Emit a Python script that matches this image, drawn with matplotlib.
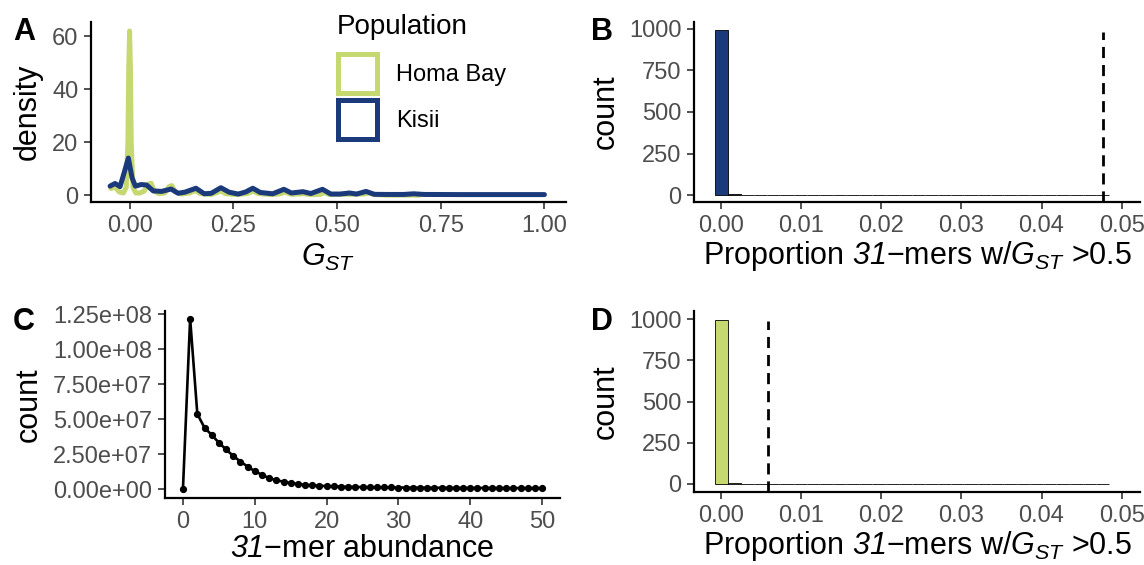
import matplotlib
matplotlib.use("Agg")
import matplotlib.pyplot as plt
import numpy as np
from matplotlib.patches import Patch
from matplotlib.ticker import FuncFormatter

plt.rcParams["font.family"] = ["Liberation Sans", "DejaVu Sans"]
plt.rcParams["mathtext.fontset"] = "custom"
# math parts of the labels ("31", G_ST) are all italic in the reference
plt.rcParams["mathtext.rm"] = "Liberation Sans:italic"
plt.rcParams["mathtext.it"] = "Liberation Sans:italic"

GREEN = "#c6d870"
BLUE = "#1b3a7b"
TICK_GREY = "#4d4d4d"

# panel A: GST density curves
homa_x = [-0.045, -0.035, -0.025, -0.015, -0.008, -0.004, -0.002, 0.0, 0.002, 0.004, 0.008,
          0.015, 0.025, 0.035, 0.045, 0.052, 0.06, 0.07, 0.085, 0.095, 0.102, 0.11, 0.125,
          0.145, 0.158, 0.17, 0.195, 0.21, 0.22, 0.232, 0.26, 0.285, 0.297, 0.31, 0.34, 0.36,
          0.375, 0.39, 0.42, 0.435, 0.46, 0.47, 0.48, 0.53, 0.565, 0.575, 0.59, 0.62, 0.70]
homa_d = [2.5, 3.0, 1.2, 0.8, 3.0, 20.0, 48.0, 62.0, 48.0, 20.0, 3.0,
          0.8, 0.8, 1.5, 4.2, 4.5, 1.5, 0.6, 0.8, 3.2, 3.6, 1.2, 0.4,
          0.8, 1.8, 0.6, 0.2, 0.9, 1.6, 0.5, 0.2, 0.6, 1.6, 0.6, 0.2, 0.4,
          1.1, 0.3, 0.5, 0.2, 0.3, 1.0, 0.3, 0.3, 0.4, 0.8, 0.2, 0.0, 0.0]

kisii_x = [-0.047, -0.035, -0.023, -0.013, -0.003, 0.006, 0.014, 0.028, 0.041, 0.057, 0.077,
           0.1, 0.117, 0.133, 0.16, 0.18, 0.197, 0.22, 0.24, 0.262, 0.28, 0.297, 0.315, 0.345,
           0.372, 0.39, 0.418, 0.437, 0.465, 0.485, 0.507, 0.53, 0.547, 0.57, 0.59, 0.62, 0.66,
           0.685, 0.71, 0.8, 0.9, 1.0]
kisii_d = [3.4, 4.4, 3.2, 8.5, 14.0, 6.5, 3.4, 4.0, 3.8, 1.6, 1.4,
           2.3, 0.7, 1.1, 2.6, 0.5, 0.7, 2.8, 1.1, 0.4, 1.2, 2.6, 1.0, 0.5,
           2.2, 0.8, 1.3, 0.6, 2.2, 0.4, 0.4, 0.8, 0.4, 1.4, 0.3, 0.25, 0.25,
           0.5, 0.25, 0.2, 0.2, 0.2]

# panel C: 31-mer abundance spectrum
abundance = list(range(0, 51))
kmer_count = [0.0, 1.219e8, 5.37e7, 4.39e7, 3.87e7, 3.32e7, 2.83e7, 2.37e7, 1.97e7, 1.61e7,
              1.28e7, 1.02e7, 7.8e6, 6.4e6, 5.2e6, 4.3e6, 3.6e6, 3.1e6, 2.7e6, 2.4e6,
              2.1e6, 1.9e6, 1.75e6, 1.6e6, 1.5e6, 1.4e6, 1.3e6, 1.25e6, 1.2e6, 1.15e6,
              1.1e6, 1.05e6, 1.0e6, 0.97e6, 0.94e6, 0.91e6, 0.88e6, 0.86e6, 0.84e6, 0.82e6,
              0.8e6, 0.78e6, 0.76e6, 0.74e6, 0.72e6, 0.7e6, 0.69e6, 0.68e6, 0.67e6, 0.66e6,
              0.65e6]

# panels B and D: permutation histograms (30 bins)
hist_max = 0.0476
counts_b = [994, 5] + [0] * 27 + [1]
counts_d = [995, 4] + [0] * 27 + [1]
observed_b = 0.0477
observed_d = 0.0059

W, H = 1144, 565
fig = plt.figure(figsize=(W / 100, H / 100), dpi=100)


def px_axes(left, top, right, bottom):
    return fig.add_axes([left / W, 1 - bottom / H, (right - left) / W, (bottom - top) / H])


def style(ax):
    for s in ["top", "right"]:
        ax.spines[s].set_visible(False)
    for s in ["left", "bottom"]:
        ax.spines[s].set_linewidth(1.6)
        ax.spines[s].set_color("black")
    ax.tick_params(length=5, width=1.2, color="#333333", labelsize=17,
                   labelcolor=TICK_GREY, pad=4)


axA = px_axes(91, 22, 566, 202)
axB = px_axes(694, 22, 1140, 202)
axC = px_axes(165, 311, 560, 498)
axD = px_axes(694, 311, 1140, 492)

# A
axA.plot(homa_x, homa_d, color=GREEN, lw=3.6, solid_capstyle="round")
axA.plot(kisii_x, kisii_d, color=BLUE, lw=3.6, solid_capstyle="round")
axA.set_xlim(-0.093, 1.052)
axA.set_ylim(-2.6, 65.4)
axA.set_xticks([0, 0.25, 0.5, 0.75, 1.0])
axA.set_xticklabels(["0.00", "0.25", "0.50", "0.75", "1.00"])
axA.set_yticks([0, 20, 40, 60])
axA.set_xlabel(r"$G_{ST}$", fontsize=22)
axA.set_ylabel("density", fontsize=22, labelpad=7)
style(axA)

fig.text(337 / W, 1 - 33.5 / H, "Population", fontsize=20, va="baseline")
handles = [Patch(facecolor="white", edgecolor=GREEN, linewidth=3.6, label="Homa Bay"),
           Patch(facecolor="white", edgecolor=BLUE, linewidth=3.6, label="Kisii")]
fig.legend(handles=handles, loc="upper left", bbox_to_anchor=(338 / W, 1 - 54 / H),
           frameon=False, fontsize=17, handlelength=1.65, handleheight=2.165,
           labelspacing=0.3, handletextpad=0.8, borderpad=0, borderaxespad=0)


def hist_panel(ax, counts, color, observed):
    nb = len(counts)
    w = hist_max / (nb - 1)
    centers = np.arange(nb) * w
    ax.bar(centers, counts, width=w, color=color, edgecolor="black", linewidth=0.6)
    ax.axvline(observed, color="black", lw=2, ls=(0, (4, 2.5)), ymax=0.945)
    ax.set_xlim(-0.0034, 0.0523)
    ax.set_xticks([0, 0.01, 0.02, 0.03, 0.04, 0.05])
    ax.set_xticklabels(["0.00", "0.01", "0.02", "0.03", "0.04", "0.05"])
    ax.set_yticks([0, 250, 500, 750, 1000])
    ax.set_xlabel(r"Proportion $31$−mers w/$G_{ST}$ >0.5", fontsize=22, labelpad=2)
    ax.set_ylabel("count", fontsize=22, labelpad=6)
    style(ax)


hist_panel(axB, counts_b, BLUE, observed_b)
axB.set_ylim(-40, 1040)
hist_panel(axD, counts_d, GREEN, observed_d)
axD.set_ylim(-50, 1050)

# C
axC.plot(abundance, kmer_count, color="black", lw=1.9, marker="o", markersize=4.2)
axC.set_xlim(-2.5, 52.5)
axC.set_ylim(-6.4e6, 1.2735e8)
axC.set_xticks([0, 10, 20, 30, 40, 50])
axC.set_yticks([0, 2.5e7, 5e7, 7.5e7, 1e8, 1.25e8])
axC.yaxis.set_major_formatter(FuncFormatter(lambda v, p: f"{v:.2e}"))
axC.set_xlabel(r"$31$−mer abundance", fontsize=22, labelpad=1)
axC.set_ylabel("count", fontsize=22, labelpad=7)
style(axC)

for lab, x, y in [("A", 13, 40), ("B", 591, 40), ("C", 13, 330), ("D", 591, 330)]:
    fig.text(x / W, 1 - y / H, lab, fontsize=22, fontweight="bold", va="baseline")

fig.savefig("out.png", dpi=100)
